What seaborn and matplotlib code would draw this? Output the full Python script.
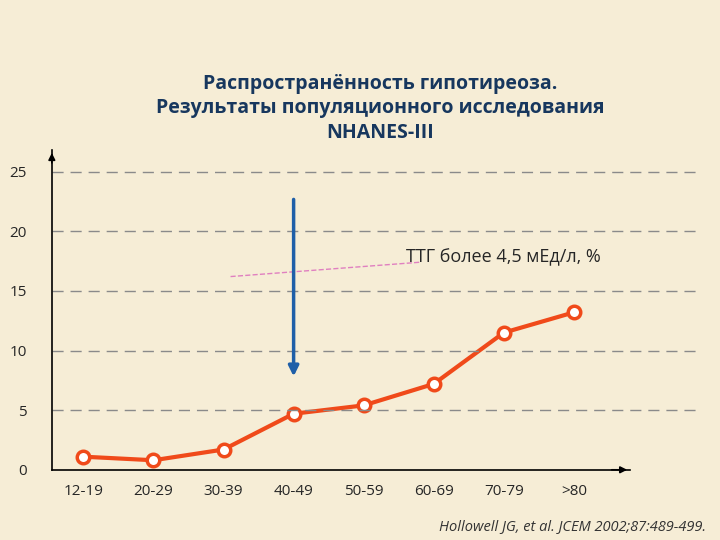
import matplotlib
matplotlib.use("Agg")
import matplotlib.pyplot as plt
import seaborn as sns
import pandas as pd

categories = ["12-19", "20-29", "30-39", "40-49", "50-59", "60-69", "70-79", ">80"]
values = [1.1, 0.8, 1.7, 4.7, 5.4, 7.2, 11.5, 13.2]
yticks = [0, 5, 10, 15, 20, 25]

df = pd.DataFrame({"x": range(len(categories)), "v": values})
sns.set_style("white")
plt.rcParams["font.family"] = ["Open Sans", "DejaVu Sans"]

bg = "#f6edd6"
fig = plt.figure(figsize=(7.2, 5.4), dpi=100, facecolor=bg)
ax = fig.add_axes([0.072, 0.13, 0.803, 0.592], facecolor=bg)
sns.lineplot(data=df, x="x", y="v", ax=ax, color="#f04a1a", lw=3, marker="o",
             markersize=9, markerfacecolor="white", markeredgecolor="#f04a1a",
             markeredgewidth=2.5)
ax.set_xlim(-0.45, 7.8)
ax.set_ylim(0, 26.8)
ax.set_yticks(yticks)
ax.set_yticklabels([str(t) for t in yticks], fontsize=11)
for t in yticks[1:]:
    ax.axhline(t, color="#8a8a8a", lw=1, ls=(0, (8, 5)), xmax=1.12, clip_on=False)
ax.set_xticks(range(len(categories)))
ax.set_xticklabels(categories, fontsize=11)
ax.tick_params(length=0, pad=10)
ax.tick_params(axis="y", pad=18)
for s in ["top", "right"]:
    ax.spines[s].set_visible(False)
for s in ["left", "bottom"]:
    ax.spines[s].set_color("black")
    ax.spines[s].set_linewidth(1.2)
ax.set_xlabel(""); ax.set_ylabel("")
ax.annotate("", xy=(-0.45, 26.8), xytext=(-0.45, 25.5),
            arrowprops=dict(arrowstyle="-|>", color="black", lw=1.2))
ax.annotate("", xy=(7.8, 0), xytext=(7.5, 0),
            arrowprops=dict(arrowstyle="-|>", color="black", lw=1.2), annotation_clip=False)
ax.annotate("", xy=(3.0, 7.6), xytext=(3.0, 22.9),
            arrowprops=dict(arrowstyle="-|>", color="#1f5fa8", lw=2.5, mutation_scale=15))
ax.plot([2.1, 4.8], [16.2, 17.4], color="#e080c0", lw=1, ls="--")
ax.text(6.0, 17.8, "ТТГ более 4,5 мЕд/л, %", fontsize=13, ha="center", va="center")

fig.text(0.528, 0.80, "Распространённость гипотиреоза.\nРезультаты популяционного исследования\nNHANES-III",
         ha="center", va="center", fontsize=14, fontweight="bold", color="#17375e", linespacing=1.3)
fig.text(0.98, 0.025, "Hollowell JG, et al. JCEM 2002;87:489-499.", ha="right", va="center",
         fontsize=10.5, style="italic", color="#333333")
fig.savefig("out.png", dpi=100, facecolor=bg)
